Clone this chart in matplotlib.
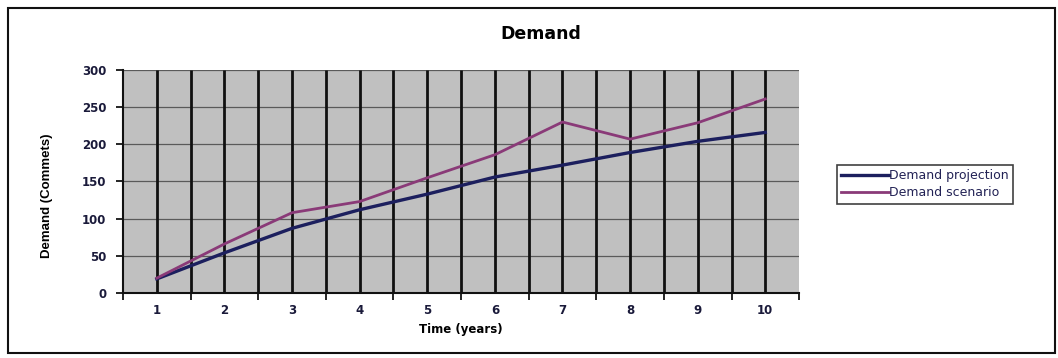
import matplotlib
matplotlib.use('Agg')
import matplotlib.pyplot as plt
from matplotlib.patches import Rectangle
import numpy as np

years = [1, 2, 3, 4, 5, 6, 7, 8, 9, 10]
projection = [19, 54, 87, 112, 133, 156, 172, 189, 204, 216]
scenario = [20, 66, 108, 123, 155, 186, 230, 207, 229, 261]

plt.rcParams['font.family'] = ['DejaVu Sans']

fig = plt.figure(figsize=(10.58, 3.58), dpi=100)
ax = fig.add_axes([0.1163, 0.1816, 0.639, 0.6229])
ax.set_facecolor('#c0c0c0')

# heavy vertical lines at every category centre and boundary
vpos = np.arange(years[0], years[-1] + 0.5, 0.5)
ax.vlines(vpos, 0, 300, color='#101010', lw=2.0, zorder=1)
ax.set_axisbelow(True)
ax.grid(axis='y', color='#5a5a5a', lw=0.9)

ax.plot(years, projection, color='#1c1f5e', lw=2.4, label='Demand projection', zorder=3)
ax.plot(years, scenario, color='#8a3a78', lw=2.0, label='Demand scenario', zorder=3)

ax.set_xlim(0.5, 10.5)
ax.set_ylim(0, 300)
ax.set_yticks(range(0, 301, 50))
ax.set_xticks(years)
ax.set_xticks(np.arange(0.5, 10.6, 1), minor=True)
ax.tick_params(axis='x', which='major', length=0, labelsize=8.5, pad=8,
               labelcolor='#1a1a3a')
ax.tick_params(axis='x', which='minor', length=5, width=1.2, direction='out')
ax.tick_params(axis='y', length=5, width=1.2, labelsize=8.5, pad=7,
               labelcolor='#1a1a3a')
for lbl in ax.get_xticklabels() + ax.get_yticklabels():
    lbl.set_fontweight('bold')

for s in ['top', 'right']:
    ax.spines[s].set_visible(False)
for s in ['left', 'bottom']:
    ax.spines[s].set_linewidth(1.5)
    ax.spines[s].set_color('#111111')

ax.set_xlabel('Time (years)', fontsize=8.5, fontweight='bold', labelpad=4)
ax.set_ylabel('Demand (Commets)', fontsize=9.5, fontweight='bold',
              family=['Liberation Sans Narrow', 'Liberation Sans'])
ax.yaxis.set_label_coords(-0.104, 0.435)
fig.text(0.511, 0.905, 'Demand', ha='center', va='center',
         fontsize=12.5, fontweight='bold')

leg = fig.legend(loc='upper left', bbox_to_anchor=(0.791, 0.539),
                 fontsize=9, handlelength=3.85, handletextpad=0.0,
                 frameon=True, fancybox=False, borderpad=0.35,
                 labelspacing=0.3, borderaxespad=0)
leg.get_frame().set_edgecolor('#111111')
leg.get_frame().set_linewidth(1.2)
for t in leg.get_texts():
    t.set_color('#222255')

# outer chart border
fig.patches.append(Rectangle((0.008, 0.014), 0.989, 0.964, transform=fig.transFigure,
                             fill=False, edgecolor='#111111', lw=1.5))

fig.savefig('out.png', dpi=100)
